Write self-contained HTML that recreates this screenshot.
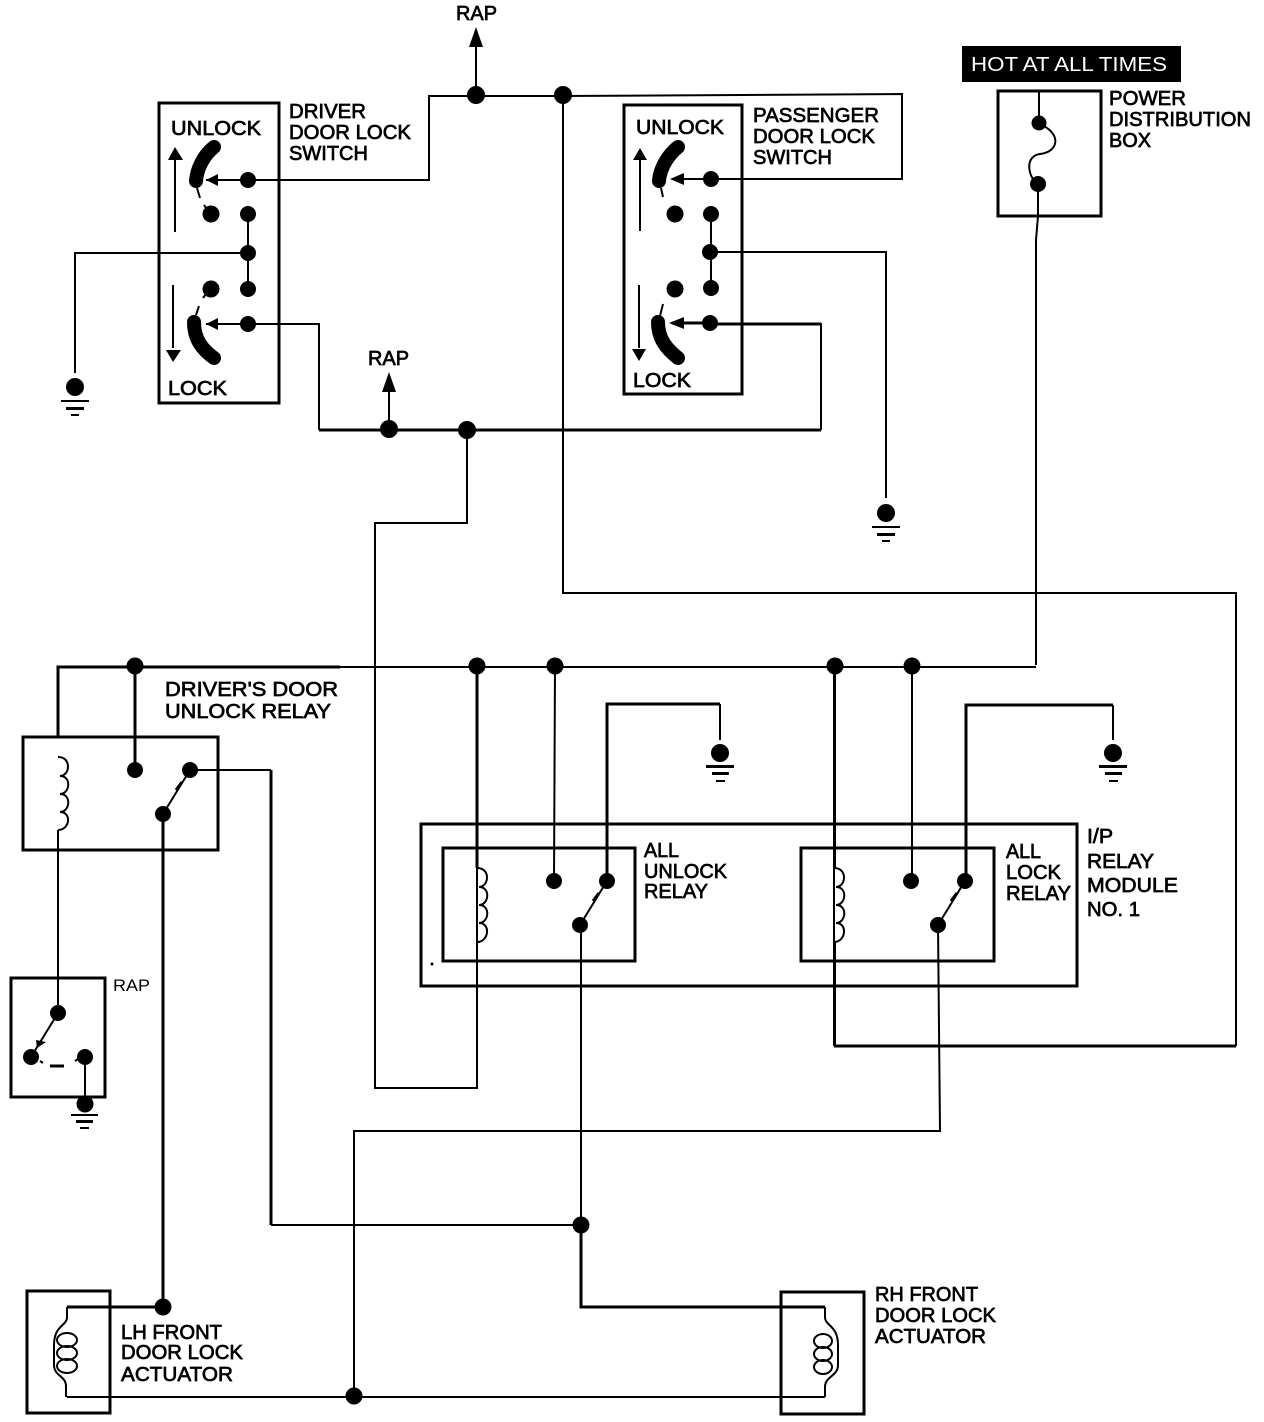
<!DOCTYPE html>
<html><head><meta charset="utf-8"><style>
html,body{margin:0;padding:0;background:#fff}
svg{display:block}
text{font-family:"Liberation Sans",sans-serif;font-size:20px;fill:#000;stroke:#000;stroke-width:.7;}
.w{fill:none;stroke:#000;stroke-width:2}
.t{fill:none;stroke:#000;stroke-width:3}
.blade{fill:none;stroke:#000;stroke-width:14;stroke-linecap:round}
</style></head><body>
<svg width="1264" height="1422" viewBox="0 0 1264 1422" xmlns="http://www.w3.org/2000/svg">
<rect width="1264" height="1422" fill="#fff"/>
<!-- boxes -->
<rect class="t" x="159" y="103" width="120" height="300"/>
<rect class="t" x="624" y="105" width="118" height="289"/>
<rect class="t" x="998" y="91" width="103" height="125"/>
<rect class="t" x="23" y="737" width="195" height="113"/>
<rect class="t" x="11" y="978" width="94" height="119"/>
<rect class="t" x="421" y="824" width="656" height="162"/>
<rect class="t" x="443" y="848" width="192" height="113"/>
<rect class="t" x="801" y="848" width="193" height="113"/>
<rect class="t" x="27" y="1291" width="83" height="122"/>
<rect class="t" x="781" y="1292" width="83" height="122"/>
<rect x="962" y="46" width="219" height="36" fill="#000"/>
<!-- wires -->
<path class="w" d="M249 180H429V96H563L902 94V179H711"/>
<path class="w" d="M476 95V40M389 430V385"/>
<path class="w" d="M248 214V289M248 253H75V373"/>
<path class="w" d="M249 324H319V430"/>
<path class="t" d="M319 430H821"/>
<path class="w" d="M821 430V323"/><path class="t" d="M821 324H711"/>
<path class="w" d="M711 214V288M711 252H886V498"/>
<path class="w" d="M467 430V523H375V1088H477V666"/>
<path class="w" d="M563 96V593H1236V1046"/><path class="t" d="M1236 1046H834"/><path class="w" d="M834 1046V666"/>
<path class="w" d="M1039 91V123M1038 184V216L1036 240V665"/>
<path class="t" d="M58 738V667H340"/><path class="w" d="M340 667H1036"/>
<path class="t" d="M135 666V770"/>
<path class="w" d="M58 830V1013"/>
<path class="w" d="M555 666L554 881"/>
<path class="w" d="M912 666V881"/>
<path class="t" d="M477 666V868"/><path class="w" d="M477 942V1088"/>
<path class="w" d="M835 666V868M835 942V1046"/>
<path class="t" d="M607 881V704H720"/><path class="w" d="M720 704V740"/>
<path class="t" d="M966 881V705H1113"/><path class="w" d="M1113 705V740"/>
<path class="w" d="M190 770H271"/><path class="t" d="M271 770V1225"/><path class="w" d="M271 1225H581"/>
<path class="t" d="M163 814V1307"/>
<path class="w" d="M581 925V1225"/><path class="t" d="M581 1225V1307H825"/>
<path class="w" d="M938 925L940 1131H354V1396"/>
<path class="t" d="M67 1307H163"/>
<path class="w" d="M67 1397H825"/>
<!-- relay arms -->
<path class="w" d="M190 770L163 814M607 881L580 925M965 881L938 925M58 1013L31 1057"/>
<path class="t" d="M176 790L182 782M593 901L599 893M951 901L957 893"/>
<path d="M37 1048L36 1040 46 1042Z" fill="#000"/>
<path class="t" d="M50 1066H64"/>
<path class="w" d="M85 1057V1104M40 1061L43 1063M75 1061L78 1059"/>
<!-- relay coils -->
<path class="w" d="M58 757C72 757 70 776 60 776C72 776 70 794 60 794C72 794 70 812 60 812C72 812 70 830 58 830"/>
<path class="w" d="M477 868C491 868 489 887 479 887C491 887 489 905 479 905C491 905 489 923 479 923C491 923 489 942 477 942"/>
<path class="w" d="M834 868C848 868 846 887 836 887C848 887 846 905 836 905C848 905 846 923 836 923C848 923 846 942 834 942"/>
<!-- actuator coils -->
<path class="w" d="M67 1307V1318C66 1326 54 1326 54 1345V1365C54 1376 66 1376 66 1386V1397"/>
<ellipse class="w" cx="67" cy="1340" rx="10" ry="7"/><ellipse class="w" cx="67" cy="1353" rx="10" ry="7"/><ellipse class="w" cx="67" cy="1366" rx="10" ry="7"/>
<path class="w" d="M825 1307V1318C826 1326 838 1326 838 1345V1365C838 1376 826 1376 825 1386V1397"/>
<ellipse class="w" cx="823" cy="1341" rx="9" ry="7"/><ellipse class="w" cx="823" cy="1354" rx="9" ry="7"/><ellipse class="w" cx="823" cy="1367" rx="9" ry="7"/>
<!-- fuse -->
<path class="w" d="M1042 125C1062 135 1058 152 1040 154C1024 156 1028 178 1038 184"/>
<!-- switch blades -->
<path class="blade" d="M214 147C204 155 197 168 196 181"/>
<path class="blade" d="M194 322C194 340 203 350 214 358"/>
<path class="blade" d="M678 147C668 155 660 168 659 181"/>
<path class="blade" d="M658 322C658 340 668 350 678 358"/>
<path class="w" d="M197 188L200 198M199 306L196 315M204 205L206 208M203 298L206 294M661 188L663 197M663 304L660 316"/>
<path class="w" d="M206 180H248M206 324H248M672 179H711"/>
<path class="t" d="M672 323H711"/>
<path d="M206 180L218 174V186ZM206 324L218 318V330ZM670 179L684 173V185ZM669 323L684 317V329Z" fill="#000"/>
<!-- direction arrows -->
<path class="w" d="M175 160V232M173 285V348M640 160V231M639 285V348"/>
<path d="M175 147L168 160H183ZM173 362L166 350H181ZM640 148L633 160H647ZM639 361L632 349H646Z" fill="#000"/>
<path d="M476 27L469 47H483ZM389 372L382 392H396Z" fill="#000"/>
<!-- dots -->
<g fill="#000">
<circle cx="476" cy="95" r="9"/><circle cx="563" cy="95" r="9"/>
<circle cx="248" cy="180" r="8"/><circle cx="211" cy="214" r="8.5"/><circle cx="248" cy="214" r="8"/><circle cx="248" cy="253" r="8"/><circle cx="248" cy="289" r="8"/><circle cx="211" cy="289" r="8.5"/><circle cx="248" cy="324" r="8"/>
<circle cx="711" cy="179" r="8"/><circle cx="675" cy="214" r="8.5"/><circle cx="711" cy="214" r="8"/><circle cx="710" cy="252" r="8"/><circle cx="711" cy="288" r="8"/><circle cx="675" cy="289" r="8.5"/><circle cx="710" cy="323" r="8"/>
<circle cx="1039" cy="123" r="7.5"/><circle cx="1038" cy="184" r="8"/>
<circle cx="389" cy="429" r="9"/><circle cx="467" cy="430" r="9"/>
<circle cx="135" cy="666" r="8.5"/><circle cx="477" cy="666" r="8.5"/><circle cx="555" cy="666" r="8.5"/><circle cx="835" cy="666" r="8.5"/><circle cx="912" cy="666" r="8.5"/>
<circle cx="135" cy="770" r="8"/><circle cx="190" cy="770" r="8"/><circle cx="163" cy="814" r="8"/>
<circle cx="554" cy="881" r="8"/><circle cx="607" cy="881" r="8"/><circle cx="580" cy="925" r="8"/>
<circle cx="911" cy="881" r="8"/><circle cx="965" cy="881" r="8"/><circle cx="938" cy="925" r="8"/>
<circle cx="58" cy="1013" r="8"/><circle cx="31" cy="1057" r="8"/><circle cx="85" cy="1057" r="8"/>
<circle cx="581" cy="1225" r="8.5"/><circle cx="163" cy="1307" r="8.5"/><circle cx="354" cy="1396" r="8.5"/>
<circle cx="432" cy="964" r="1.5"/>
</g>
<!-- grounds -->
<g fill="#000">
<circle cx="75" cy="387" r="9"/><rect x="61" y="400" width="28" height="2"/><rect x="66" y="407" width="18" height="3"/><rect x="71" y="414" width="8" height="2"/>
<circle cx="886" cy="513" r="9"/><rect x="872" y="526" width="28" height="2"/><rect x="877" y="533" width="18" height="3"/><rect x="882" y="540" width="8" height="2"/>
<circle cx="720" cy="753" r="9"/><rect x="706" y="765" width="28" height="3"/><rect x="712" y="772" width="17" height="3"/><rect x="716" y="780" width="9" height="2"/>
<circle cx="1113" cy="753" r="9"/><rect x="1099" y="765" width="28" height="3"/><rect x="1105" y="772" width="17" height="3"/><rect x="1109" y="780" width="9" height="2"/>
<circle cx="85" cy="1104" r="8.5"/><rect x="71" y="1114" width="27" height="2"/><rect x="76" y="1120" width="17" height="3"/><rect x="80" y="1127" width="9" height="2"/>
</g>
<!-- labels -->
<g>
<text x="456" y="20" textLength="41" lengthAdjust="spacingAndGlyphs">RAP</text>
<text x="368" y="365" textLength="41" lengthAdjust="spacingAndGlyphs">RAP</text>
<text x="289" y="118" textLength="77" lengthAdjust="spacingAndGlyphs">DRIVER</text>
<text x="289" y="139" textLength="122" lengthAdjust="spacingAndGlyphs">DOOR LOCK</text>
<text x="289" y="160" textLength="79" lengthAdjust="spacingAndGlyphs">SWITCH</text>
<text x="171" y="135" textLength="90" lengthAdjust="spacingAndGlyphs">UNLOCK</text>
<text x="168" y="395" textLength="59" lengthAdjust="spacingAndGlyphs">LOCK</text>
<text x="753" y="122" textLength="126" lengthAdjust="spacingAndGlyphs">PASSENGER</text>
<text x="753" y="143" textLength="122" lengthAdjust="spacingAndGlyphs">DOOR LOCK</text>
<text x="753" y="164" textLength="79" lengthAdjust="spacingAndGlyphs">SWITCH</text>
<text x="636" y="134" textLength="88" lengthAdjust="spacingAndGlyphs">UNLOCK</text>
<text x="633" y="387" textLength="58" lengthAdjust="spacingAndGlyphs">LOCK</text>
<text x="971" y="71" textLength="196" lengthAdjust="spacingAndGlyphs" style="fill:#fff;stroke:none">HOT AT ALL TIMES</text>
<text x="1109" y="105" textLength="77" lengthAdjust="spacingAndGlyphs">POWER</text>
<text x="1109" y="126" textLength="142" lengthAdjust="spacingAndGlyphs">DISTRIBUTION</text>
<text x="1109" y="147" textLength="42" lengthAdjust="spacingAndGlyphs">BOX</text>
<text x="165" y="696" textLength="173" lengthAdjust="spacingAndGlyphs">DRIVER'S DOOR</text>
<text x="165" y="718" textLength="166" lengthAdjust="spacingAndGlyphs">UNLOCK RELAY</text>
<text x="644" y="857" textLength="35" lengthAdjust="spacingAndGlyphs">ALL</text>
<text x="644" y="878" textLength="83" lengthAdjust="spacingAndGlyphs">UNLOCK</text>
<text x="644" y="898" textLength="64" lengthAdjust="spacingAndGlyphs">RELAY</text>
<text x="1006" y="858" textLength="35" lengthAdjust="spacingAndGlyphs">ALL</text>
<text x="1006" y="879" textLength="55" lengthAdjust="spacingAndGlyphs">LOCK</text>
<text x="1006" y="900" textLength="65" lengthAdjust="spacingAndGlyphs">RELAY</text>
<text x="1087" y="843" textLength="26" lengthAdjust="spacingAndGlyphs">I/P</text>
<text x="1087" y="868" textLength="67" lengthAdjust="spacingAndGlyphs">RELAY</text>
<text x="1087" y="892" textLength="91" lengthAdjust="spacingAndGlyphs">MODULE</text>
<text x="1087" y="916" textLength="53" lengthAdjust="spacingAndGlyphs">NO. 1</text>
<text x="113" y="991" textLength="37" lengthAdjust="spacingAndGlyphs" style="font-size:17px;stroke:none">RAP</text>
<text x="121" y="1339" textLength="101" lengthAdjust="spacingAndGlyphs">LH FRONT</text>
<text x="121" y="1359" textLength="122" lengthAdjust="spacingAndGlyphs">DOOR LOCK</text>
<text x="121" y="1381" textLength="112" lengthAdjust="spacingAndGlyphs">ACTUATOR</text>
<text x="875" y="1301" textLength="103" lengthAdjust="spacingAndGlyphs">RH FRONT</text>
<text x="875" y="1322" textLength="121" lengthAdjust="spacingAndGlyphs">DOOR LOCK</text>
<text x="875" y="1343" textLength="111" lengthAdjust="spacingAndGlyphs">ACTUATOR</text>
</g>
</svg>
</body></html>
